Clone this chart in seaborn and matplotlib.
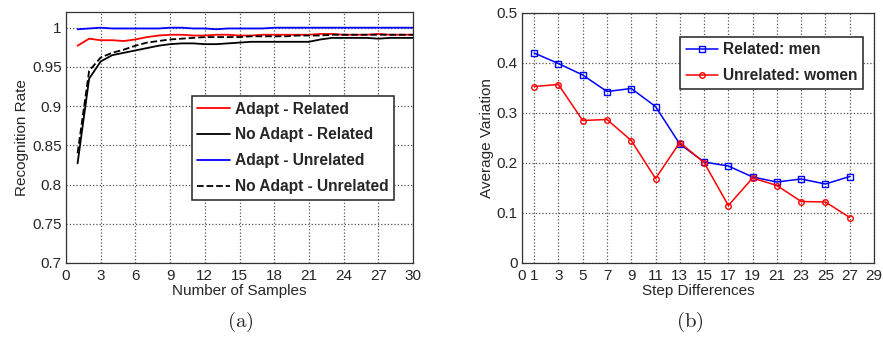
import pandas as pd
import numpy as np
import seaborn as sns
import matplotlib.pyplot as plt

# (a) recognition rate vs number of samples
samples = list(range(1, 31))
adapt_related = [0.977, 0.986, 0.984, 0.984, 0.983, 0.985, 0.988, 0.990, 0.991, 0.991,
                 0.990, 0.990, 0.991, 0.991, 0.990, 0.990, 0.991, 0.991, 0.991, 0.991,
                 0.991, 0.992, 0.992, 0.991, 0.991, 0.991, 0.992, 0.991, 0.991, 0.991]
noadapt_related = [0.827, 0.935, 0.957, 0.965, 0.968, 0.971, 0.974, 0.977, 0.979, 0.980,
                   0.980, 0.979, 0.979, 0.980, 0.981, 0.982, 0.982, 0.982, 0.982, 0.982,
                   0.982, 0.985, 0.987, 0.987, 0.987, 0.987, 0.986, 0.987, 0.987, 0.987]
adapt_unrelated = [0.998, 0.999, 1.000, 0.999, 0.999, 0.999, 0.999, 0.999, 1.000, 1.000,
                   0.999, 0.999, 0.998, 0.999, 0.999, 0.999, 0.999, 1.000, 1.000, 1.000,
                   1.000, 1.000, 1.000, 1.000, 1.000, 1.000, 1.000, 1.000, 1.000, 1.000]
noadapt_unrelated = [0.840, 0.945, 0.962, 0.968, 0.972, 0.977, 0.981, 0.983, 0.985, 0.986,
                     0.987, 0.988, 0.988, 0.988, 0.988, 0.989, 0.989, 0.989, 0.989, 0.990,
                     0.990, 0.990, 0.991, 0.991, 0.991, 0.991, 0.991, 0.991, 0.991, 0.991]

# (b) average variation vs step differences
steps = [1, 3, 5, 7, 9, 11, 13, 15, 17, 19, 21, 23, 25, 27]
men = [0.420, 0.399, 0.376, 0.343, 0.349, 0.313, 0.238, 0.202, 0.194, 0.172, 0.162, 0.168, 0.158, 0.173]
women = [0.353, 0.357, 0.285, 0.287, 0.245, 0.169, 0.241, 0.201, 0.115, 0.170, 0.155, 0.123, 0.122, 0.091]

sns.set_style('white')
plt.rcParams['font.family'] = ['Liberation Sans', 'DejaVu Sans']
plt.rcParams['mathtext.fontset'] = 'cm'

fig = plt.figure(figsize=(8.83, 3.37), dpi=100)
ax1 = fig.add_axes([66 / 883, 1 - 263 / 337, 347 / 883, 251 / 337])
ax2 = fig.add_axes([522 / 883, 1 - 263 / 337, 352 / 883, 250 / 337])

sns.lineplot(x=samples, y=adapt_related, ax=ax1, color='red', lw=1.3, label='Adapt - Related')
sns.lineplot(x=samples, y=noadapt_related, ax=ax1, color='black', lw=1.3, label='No Adapt - Related')
sns.lineplot(x=samples, y=adapt_unrelated, ax=ax1, color='blue', lw=1.3, label='Adapt - Unrelated')
sns.lineplot(x=samples, y=noadapt_unrelated, ax=ax1, color='black', lw=1.3, ls='--', label='No Adapt - Unrelated')
ax1.set_xlim(0, 30)
ax1.set_ylim(0.7, 1.02)
ax1.set_xticks(range(0, 31, 3))
yt = [0.7, 0.75, 0.8, 0.85, 0.9, 0.95, 1.0]
ax1.set_yticks(yt)
ax1.set_yticklabels(['0.7', '0.75', '0.8', '0.85', '0.9', '0.95', '1'])
ax1.set_xlabel('Number of Samples', fontsize=11, labelpad=1)
ax1.set_ylabel('Recognition Rate', fontsize=11, labelpad=2)
leg1 = ax1.legend(loc='upper left', bbox_to_anchor=(0.363, 0.665), prop={'weight': 'bold', 'size': 11.2},
                  fancybox=False, edgecolor='#222222', framealpha=1, handlelength=2.1,
                  borderpad=0.35, labelspacing=0.7, handletextpad=0.3, borderaxespad=0)
leg1.get_frame().set_linewidth(1.1)

sns.lineplot(x=steps, y=men, ax=ax2, color='blue', lw=1.1, marker='s', markersize=5,
             markerfacecolor='none', markeredgecolor='blue', markeredgewidth=1, label='Related: men')
sns.lineplot(x=steps, y=women, ax=ax2, color='red', lw=1.1, marker='o', markersize=4,
             markerfacecolor='none', markeredgecolor='red', markeredgewidth=1, label='Unrelated: women')
ax2.set_xlim(0, 29)
ax2.set_ylim(0, 0.5)
ax2.set_xticks([0] + steps + [29])
ax2.set_yticks([0, 0.1, 0.2, 0.3, 0.4, 0.5])
ax2.set_yticklabels(['0', '0.1', '0.2', '0.3', '0.4', '0.5'])
ax2.set_xlabel('Step Differences', fontsize=11, labelpad=1)
ax2.set_ylabel('Average Variation', fontsize=11, labelpad=2)
leg2 = ax2.legend(loc='upper right', bbox_to_anchor=(0.969, 0.904), prop={'weight': 'bold', 'size': 11.2},
                  fancybox=False, edgecolor='#222222', framealpha=1, handlelength=2.1,
                  borderpad=0.35, labelspacing=0.7, handletextpad=0.3, borderaxespad=0)
leg2.get_frame().set_linewidth(1.1)

for ax in (ax1, ax2):
    ax.grid(True, ls=':', color='#555555', lw=0.9)
    ax.tick_params(direction='in', length=3, labelsize=11, pad=4, color='#333333')
    ax.tick_params(axis='y', pad=3)
    for s in ax.spines.values():
        s.set_color('#333333')
        s.set_linewidth(0.9)

fig.text(240 / 883, 1 - 322 / 337, r'$\mathrm{(a)}$', ha='center', va='center', fontsize=15)
fig.text(690 / 883, 1 - 322 / 337, r'$\mathrm{(b)}$', ha='center', va='center', fontsize=15)

fig.savefig('out.png', dpi=100)
